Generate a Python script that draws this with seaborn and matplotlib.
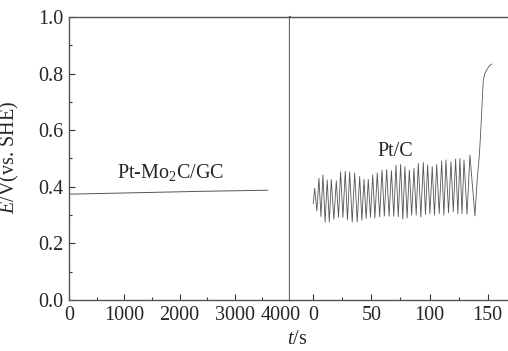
import matplotlib
matplotlib.use("Agg")
import matplotlib.pyplot as plt
from matplotlib.ticker import MultipleLocator
from matplotlib.transforms import ScaledTranslation
import seaborn as sns
import pandas as pd

# ---- data ----
mo2c_t = [0, 1200, 2400, 3600]
mo2c_E = [0.374, 0.379, 0.384, 0.388]

ptc_peak_t = [1.2, 4.9, 8.3, 12.0, 15.5, 19.8, 23.5, 27.5, 31.3, 35.6, 39.9, 43.6,
              47.3, 51.1, 55.0, 59.1, 63.1, 67.2, 71.1, 75.1, 78.8, 82.6, 86.6, 90.3,
              94.6, 98.3, 102.3, 106.1, 110.4, 114.1, 118.4, 122.4, 126.1, 129.6, 134.7]
ptc_peak_E = [0.395, 0.430, 0.442, 0.424, 0.426, 0.421, 0.453, 0.455, 0.453, 0.449,
              0.436, 0.426, 0.426, 0.442, 0.449, 0.459, 0.461, 0.457, 0.477, 0.479,
              0.471, 0.459, 0.465, 0.483, 0.486, 0.477, 0.471, 0.479, 0.491, 0.495,
              0.489, 0.498, 0.500, 0.495, 0.512]
ptc_trough_t = [3.1, 6.6, 10.2, 13.8, 17.7, 21.7, 25.5, 29.4, 33.5, 37.8, 41.8, 45.5,
                49.2, 53.0, 57.1, 61.1, 65.2, 69.2, 73.1, 77.0, 80.7, 84.6, 88.5, 92.5,
                96.5, 100.3, 104.2, 108.3, 112.3, 116.3, 120.4, 124.3, 127.9, 132.2, 139.0]
ptc_trough_E = [0.315, 0.295, 0.275, 0.276, 0.285, 0.292, 0.292, 0.283, 0.275, 0.276,
                0.282, 0.288, 0.292, 0.290, 0.294, 0.297, 0.296, 0.296, 0.294, 0.286,
                0.290, 0.300, 0.300, 0.293, 0.302, 0.305, 0.300, 0.305, 0.300, 0.308,
                0.312, 0.305, 0.305, 0.303, 0.297]
ptc_start_t = [0.0]
ptc_start_E = [0.340]
ptc_rise_t = [141.0, 142.7, 143.9, 145.3, 146.2, 147.5, 149.1, 151.0, 153.4]
ptc_rise_E = [0.430, 0.506, 0.589, 0.707, 0.777, 0.800, 0.813, 0.825, 0.834]

left_xticks = [0, 1000, 2000, 3000, 4000]
right_xticks = [0, 50, 100, 150]
yticks = [0.0, 0.2, 0.4, 0.6, 0.8, 1.0]

# build table for Pt/C
osc_t, osc_E = [], []
for pt, pe, tt, te in zip(ptc_peak_t, ptc_peak_E, ptc_trough_t, ptc_trough_E):
    osc_t += [pt, tt]
    osc_E += [pe, te]
df_ptc = pd.DataFrame({"t": ptc_start_t + osc_t + ptc_rise_t,
                       "E": ptc_start_E + osc_E + ptc_rise_E})
df_mo = pd.DataFrame({"t": mo2c_t, "E": mo2c_E})

# ---- style ----
sns.set_style("ticks")
plt.rcParams["font.family"] = ["Liberation Serif", "DejaVu Serif"]
plt.rcParams["mathtext.fontset"] = "custom"
plt.rcParams["mathtext.rm"] = "Liberation Serif"
plt.rcParams["mathtext.it"] = "Liberation Serif:italic"
plt.rcParams["axes.edgecolor"] = "#555555"
plt.rcParams["axes.linewidth"] = 1.0

fs = 14.5
fig = plt.figure(figsize=(5.08, 3.51), dpi=100)
H = 351.0
W = 508.0
bottom = 51 / H
height = 283 / H
axL = fig.add_axes([69 / W, bottom, 221 / W, height])
axR = fig.add_axes([290 / W, bottom, 226.8 / W, height], sharey=axL)

line_col = "#555555"
sns.lineplot(data=df_mo, x="t", y="E", ax=axL, color=line_col, linewidth=0.7,
             sort=False, estimator=None)
sns.lineplot(data=df_ptc, x="t", y="E", ax=axR, color=line_col, linewidth=0.6,
             sort=False, estimator=None)

axL.set_xlim(0, 4000)
axL.set_ylim(0, 1.0)
axR.set_xlim(-20, 175)

axL.set_xticks(left_xticks)
axL.xaxis.set_minor_locator(MultipleLocator(500))
axL.set_yticks(yticks)
axL.set_yticklabels([f"{v:.1f}" for v in yticks])
axL.yaxis.set_minor_locator(MultipleLocator(0.1))
axR.set_xticks(right_xticks)
axR.xaxis.set_minor_locator(MultipleLocator(25))

for ax in (axL, axR):
    ax.tick_params(axis="both", which="major", direction="in", length=4.5,
                   width=0.8, color="#333333", labelsize=fs, pad=4)
    ax.tick_params(axis="both", which="minor", direction="in", length=2.5,
                   width=0.8, color="#333333")
    ax.set_xlabel("")
    ax.set_ylabel("")
    ax.spines["top"].set_visible(True)
    ax.spines["right"].set_visible(True)

axL.spines["right"].set_linewidth(1.6)
axL.spines["right"].set_color("#666666")
axR.spines["left"].set_visible(False)
axR.tick_params(axis="y", which="both", left=False, labelleft=False)

# nudge the "4000" label a little left, as in the reference
last_lbl = axL.get_xticklabels()[-1]
last_lbl.set_transform(last_lbl.get_transform() +
                       ScaledTranslation(-9 / 100, 0, fig.dpi_scale_trans))

axL.text(1830, 0.449, "Pt-Mo$_2$C/GC", fontsize=fs, ha="center", va="center")
axR.text(70.2, 0.524, "Pt/C", fontsize=fs, ha="center", va="center")

axL.set_ylabel("$E$/V(vs. SHE)", fontsize=fs)
axL.yaxis.set_label_coords(-0.215, 0.505)
fig.text(297 / W, 1 - 339 / H, "$t$/s", fontsize=fs, ha="center", va="center")

fig.savefig("out.png", dpi=100)
